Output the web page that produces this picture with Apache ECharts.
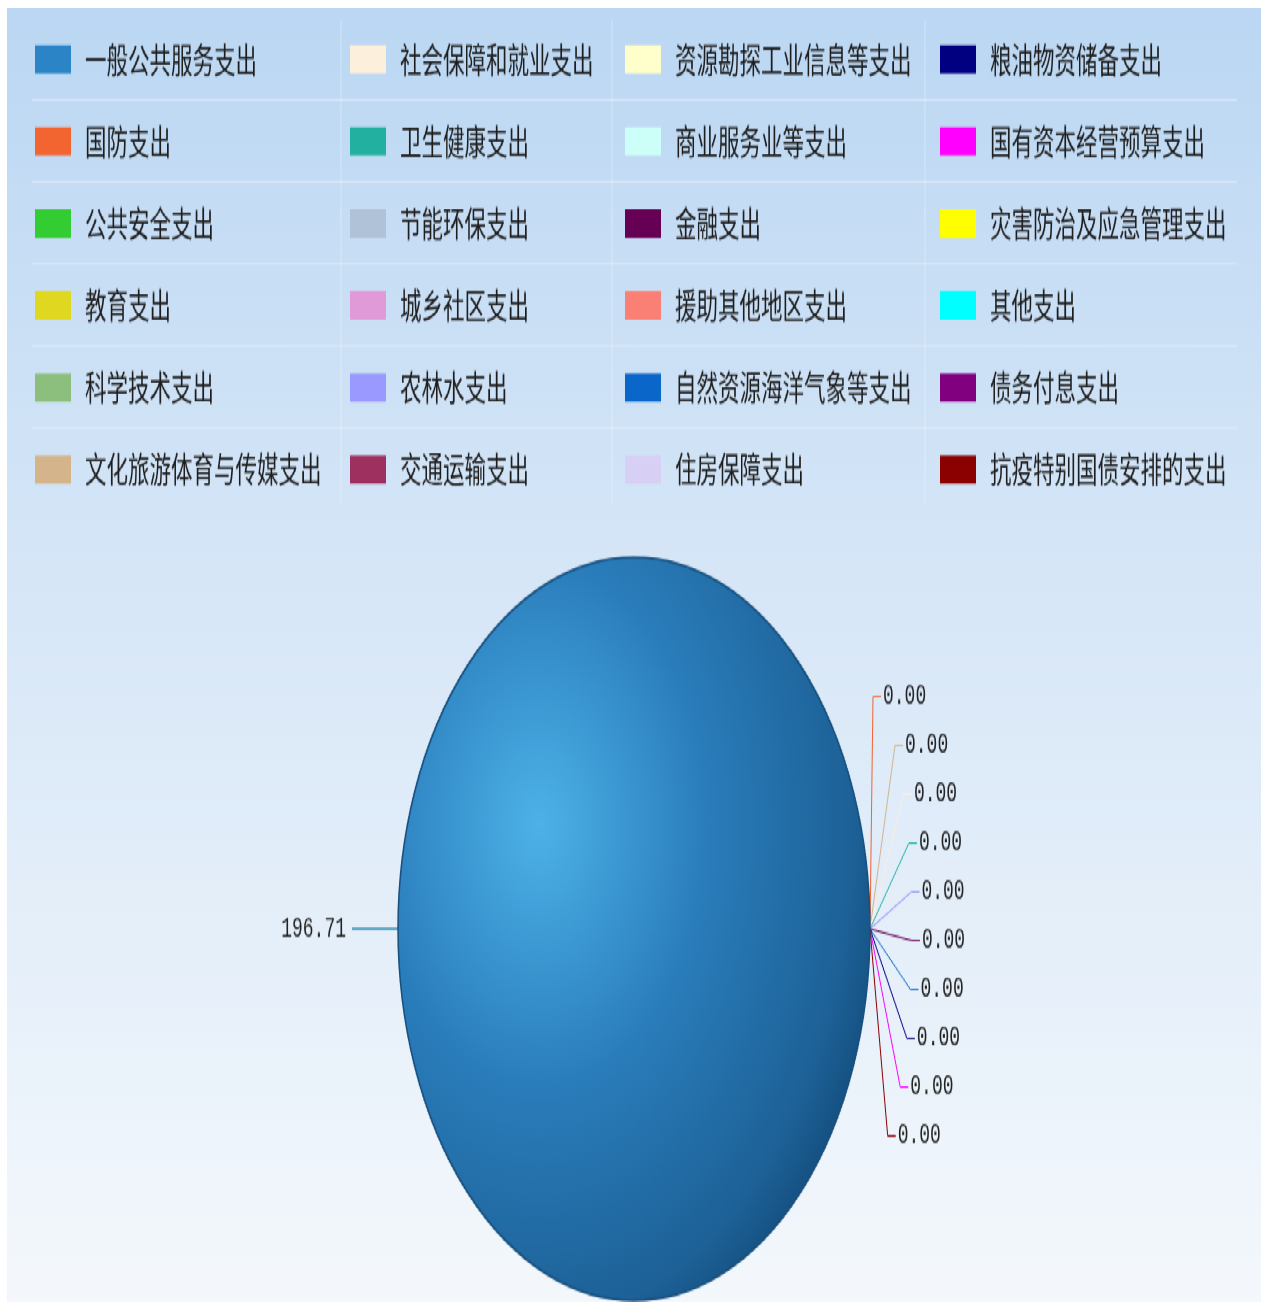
<!DOCTYPE html>
<html><head><meta charset="utf-8">
<script src="https://cdn.jsdelivr.net/npm/echarts@6/dist/echarts.min.js"></script>
<style>
html,body{margin:0;padding:0;width:1268px;height:1302px;overflow:hidden;background:#fff;}
#wrap{position:absolute;left:0;top:0;width:1268px;height:827px;transform:scaleY(1.5744);transform-origin:0 0;background:#fff;}
#chart{position:absolute;left:7px;top:5px;width:1254px;height:822px;}
</style></head><body>
<div id="wrap"><div id="chart"></div></div>
<script>
// categories in data order (legend shows them column by column)
const categories = [
  '一般公共服务支出','国防支出','公共安全支出','教育支出','科学技术支出','文化旅游体育与传媒支出',
  '社会保障和就业支出','卫生健康支出','节能环保支出','城乡社区支出','农林水支出','交通运输支出',
  '资源勘探工业信息等支出','商业服务业等支出','金融支出','援助其他地区支出','自然资源海洋气象等支出','住房保障支出',
  '粮油物资储备支出','国有资本经营预算支出','灾害防治及应急管理支出','其他支出','债务付息支出','抗疫特别国债安排的支出'
];
const values = [196.71,0,0,0,0,0, 0,0,0,0,0,0, 0,0,0,0,0,0, 0,0,0,0,0,0];
const colors = [
  '#2a84c6','#f26430','#33cc33','#e0d820','#8cbf7e','#d4b48a',
  '#fcefdc','#22b0a0','#b0c2d8','#e09ad8','#9999ff','#9e3060',
  '#ffffcc','#ccfff8','#660055','#fa7f74','#0a66c8','#d8d0f4',
  '#000080','#ff00ff','#ffff00','#00ffff','#800080','#8b0000'
];
const labelledZeroItems = [1,5,6,7,10,14,16,18,19,23];

const chart = echarts.init(document.getElementById('chart'));

const legendCols = [28, 343, 618, 933];
const legends = legendCols.map((x, c) => ({
  orient: 'vertical',
  left: x, top: 22, padding: 0,
  itemWidth: 36, itemHeight: 18, itemGap: 30.6,
  icon: 'rect',
  selectedMode: false,
  textStyle: { fontFamily: 'Noto Sans CJK SC', fontSize: 21.5, color: '#1e1e1e', padding: [0,0,0,9] },
  data: categories.slice(c*6, c*6+6).map((n, j) => ({ name: n, itemStyle: { color: colors[c*6+j], borderWidth: 0 } }))
}));

const seriesData = categories.map((n, i) => {
  const d = { name: n, value: values[i], itemStyle: { color: colors[i] } };
  if (i === 0) {
    d.itemStyle = {
      color: { type: 'radial', x: 0.3, y: 0.36, r: 0.78, colorStops: [
        { offset: 0, color: '#4db2e8' }, { offset: 0.45, color: '#2a7dbb' },
        { offset: 0.85, color: '#1d6197' }, { offset: 1, color: '#124a78' } ] },
      borderColor: '#17507f', borderWidth: 1.5
    };
    d.label = { distanceToLabelLine: 6 };
    d.labelLine = { length: 24, length2: 22, lineStyle: { color: '#3a92b8', width: 1.5 } };
  } else if (labelledZeroItems.indexOf(i) < 0) {
    d.label = { show: false };
    d.labelLine = { show: false };
  }
  return d;
});

// fan out the labels of the empty slices around their common anchor
const fanStep = 31, fanShift = -8, fanA = 42, fanB = 145;
function fanLayout(p) {
  const k = labelledZeroItems.indexOf(p.dataIndex);
  if (k < 0 || !p.labelLinePoints) return {};
  const a = p.labelLinePoints[0];
  const dy = fanShift + (k - (labelledZeroItems.length - 1) / 2) * fanStep;
  const t = Math.max(0, 1 - (dy / fanB) * (dy / fanB));
  const ex = a[0] + Math.max(3, fanA * Math.sqrt(t));
  const ly = a[1] + dy;
  return {
    x: ex + 10, y: ly, align: 'left', verticalAlign: 'middle',
    labelLinePoints: [[a[0], a[1]], [ex, ly], [ex + 8, ly]]
  };
}

// separators of the legend table
const gfx = [];
[58.5, 110.6, 162.7, 214.8, 266.9].forEach(y => gfx.push({ type: 'line', shape: { x1: 25, y1: y, x2: 1230, y2: y }, style: { stroke: 'rgba(255,255,255,0.4)', lineWidth: 1 }, silent: true }));
[334, 605, 918].forEach(x => gfx.push({ type: 'line', shape: { x1: x, y1: 8, x2: x, y2: 316 }, style: { stroke: 'rgba(255,255,255,0.35)', lineWidth: 1 }, silent: true }));

chart.setOption({
  animation: false,
  backgroundColor: { type: 'linear', x: 0, y: 0, x2: 0, y2: 1, colorStops: [
    { offset: 0, color: '#bbd7f3' }, { offset: 0.4, color: '#d4e5f7' }, { offset: 1, color: '#f4f8fc' } ] },
  legend: legends,
  graphic: gfx,
  series: [{
    type: 'pie',
    center: ['50%', 585],
    radius: 236,
    startAngle: 0,
    clockwise: true,
    avoidLabelOverlap: true,
    stillShowZeroSum: true,
    itemStyle: { borderWidth: 0 },
    label: {
      show: true,
      formatter: p => p.value.toFixed(2),
      fontFamily: 'Liberation Mono',
      fontSize: 18,
      color: '#222',
      distanceToLabelLine: 2
    },
    labelLine: { show: true, length: 26, length2: 8, lineStyle: { width: 1 } },
    labelLayout: fanLayout,
    data: seriesData
  }]
});
</script>
</body></html>
